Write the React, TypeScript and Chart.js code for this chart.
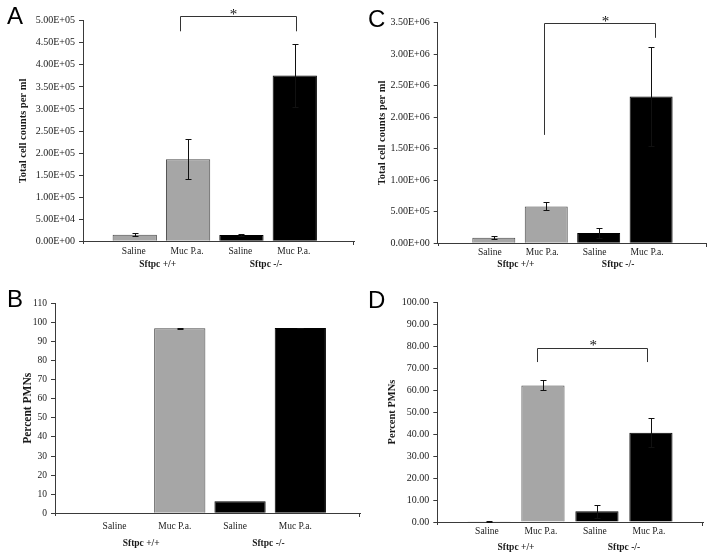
import React, { useEffect, useRef } from "react";
import { Chart, registerables } from "chart.js";

Chart.register(...registerables);

// ---------- data ----------
const categories = ["Saline", "Muc P.a.", "Saline", "Muc P.a."];
const groups = ["Sftpc +/+", "Sftpc -/-"];

const totalCellsA = [1.5e4, 1.86e5, 1.4e4, 3.76e5];
const totalCellsErrA = [3e3, 4.5e4, 1.5e3, 7.1e4];

const pmnB = [0, 96.9, 6.3, 97.1];
const pmnErrB = [0, 0.2, 0, 0.2];

const totalCellsC = [9e4, 5.85e5, 1.64e5, 2.33e6];
const totalCellsErrC = [2.7e4, 6.3e4, 8e4, 7.8e5];

const pmnD = [0.3, 62.1, 4.85, 40.6];
const pmnErrD = [0.2, 2.3, 2.9, 6.5];

const ticksA = ["0.00E+00", "5.00E+04", "1.00E+05", "1.50E+05", "2.00E+05", "2.50E+05", "3.00E+05", "3.50E+05", "4.00E+05", "4.50E+05", "5.00E+05"];
const ticksB = ["0", "10", "20", "30", "40", "50", "60", "70", "80", "90", "100", "110"];
const ticksC = ["0.00E+00", "5.00E+05", "1.00E+06", "1.50E+06", "2.00E+06", "2.50E+06", "3.00E+06", "3.50E+06"];
const ticksD = ["0.00", "10.00", "20.00", "30.00", "40.00", "50.00", "60.00", "70.00", "80.00", "90.00", "100.00"];

// ---------- styles ----------
const barColors = ["#a6a6a6", "#a6a6a6", "#000000", "#000000"];
const barBorders = ["#4a4a4a", "#4a4a4a", "#000000", "#000000"];
const AXIS = "#3a3a3a";
const TEXT = "#1a1a1a";
const SERIF = '"Liberation Serif", "Times New Roman", serif';
const SANS = '"Liberation Sans", Arial, sans-serif';

type Bracket = { x1: number; x2: number; top: number; leg1: number; leg2: number; starX: number; starDy: number };
type Panel = {
  letter: string;
  box: { left: number; top: number; width: number; height: number };
  values: number[];
  errors: number[];
  yStep: number;
  yTicks: string[];
  yTitle: string;
  titleSize: number;
  titlePad: number;
  tickSize: number;
  catSize: number;
  xMin: number;
  xMax: number;
  barPct: number;
  axisLeft: number;
  padTop: number;
  padRight: number;
  xAxisH: number;
  labelPad: number;
  labelOffset: number;
  groupX: number[];
  groupDy: number;
  letterX: number;
  letterY: number;
  letterSize: number;
  bracket?: Bracket;
};

const panels: Panel[] = [
  {
    letter: "A",
    box: { left: 0, top: 0, width: 358, height: 280 },
    values: totalCellsA,
    errors: totalCellsErrA,
    yStep: 5e4,
    yTicks: ticksA,
    yTitle: "Total cell counts per ml",
    titleSize: 10.5,
    titlePad: 16.7,
    tickSize: 10,
    catSize: 9.5,
    xMin: 0.03,
    xMax: 5.11,
    barPct: 0.83,
    axisLeft: 83,
    padTop: 20.7,
    padRight: 4,
    xAxisH: 38.7,
    labelPad: 4,
    labelOffset: -1,
    groupX: [1.43, 3.46],
    groupDy: 23.2,
    letterX: 7,
    letterY: 24,
    letterSize: 24,
    bracket: { x1: 1.84, x2: 4.02, top: 5.1e5, leg1: 4.76e5, leg2: 4.76e5, starX: 2.85, starDy: 4.5 },
  },
  {
    letter: "C",
    box: { left: 358, top: 0, width: 356, height: 280 },
    values: totalCellsC,
    errors: totalCellsErrC,
    yStep: 5e5,
    yTicks: ticksC,
    yTitle: "Total cell counts per ml",
    titleSize: 10.5,
    titlePad: 17.7,
    tickSize: 10,
    catSize: 9.5,
    xMin: -0.07,
    xMax: 5.06,
    barPct: 0.82,
    axisLeft: 79.7,
    padTop: 22.7,
    padRight: 7.3,
    xAxisH: 36.7,
    labelPad: 3.5,
    labelOffset: -4,
    groupX: [1.42, 3.37],
    groupDy: 21.7,
    letterX: 10,
    letterY: 27,
    letterSize: 24,
    bracket: { x1: 1.96, x2: 4.07, top: 3.49e6, leg1: 1.72e6, leg2: 3.26e6, starX: 3.13, starDy: 5 },
  },
  {
    letter: "B",
    box: { left: 0, top: 280, width: 364, height: 279 },
    values: pmnB,
    errors: pmnErrB,
    yStep: 10,
    yTicks: ticksB,
    yTitle: "Percent PMNs",
    titleSize: 11.5,
    titlePad: 21.6,
    tickSize: 9.5,
    catSize: 9.5,
    xMin: -0.07,
    xMax: 4.99,
    barPct: 0.85,
    axisLeft: 55,
    padTop: 23.3,
    padRight: 4,
    xAxisH: 45.7,
    labelPad: 7.7,
    labelOffset: -5,
    groupX: [1.36, 3.47],
    groupDy: 30.7,
    letterX: 7,
    letterY: 27,
    letterSize: 24,
  },
  {
    letter: "D",
    box: { left: 364, top: 280, width: 350, height: 279 },
    values: pmnD,
    errors: pmnErrD,
    yStep: 10,
    yTicks: ticksD,
    yTitle: "Percent PMNs",
    titleSize: 10.5,
    titlePad: 21.7,
    tickSize: 10,
    catSize: 9.5,
    xMin: 0.043,
    xMax: 4.97,
    barPct: 0.8,
    axisLeft: 73.3,
    padTop: 22,
    padRight: 10.7,
    xAxisH: 37,
    labelPad: 3.8,
    labelOffset: -2,
    groupX: [1.5, 3.5],
    groupDy: 26,
    letterX: 4,
    letterY: 28,
    letterSize: 24,
    bracket: { x1: 1.89, x2: 3.92, top: 79.2, leg1: 72.7, leg2: 72.7, starX: 2.93, starDy: 6 },
  },
];

function PanelChart({ p }: { p: Panel }) {
  const ref = useRef<HTMLCanvasElement>(null);

  useEffect(() => {
    const canvas = ref.current;
    if (!canvas) return;

    const annot = {
      id: "annot" + p.letter,
      afterDatasetsDraw(chart: any) {
        const ctx = chart.ctx as CanvasRenderingContext2D;
        const ys = chart.scales.y;
        const meta = chart.getDatasetMeta(0);
        ctx.save();
        ctx.strokeStyle = "#111111";
        ctx.lineWidth = 1;
        meta.data.forEach((el: any, i: number) => {
          const e = p.errors[i];
          if (!e) return;
          const x = Math.round(el.x) + 0.5;
          const yt = Math.round(ys.getPixelForValue(p.values[i] + e)) + 0.5;
          const yb = Math.round(ys.getPixelForValue(Math.max(0, p.values[i] - e))) + 0.5;
          ctx.beginPath();
          ctx.moveTo(x, yt);
          ctx.lineTo(x, yb);
          ctx.moveTo(x - 3, yt);
          ctx.lineTo(x + 3, yt);
          ctx.moveTo(x - 3, yb);
          ctx.lineTo(x + 3, yb);
          ctx.stroke();
        });
        ctx.restore();
      },
      afterDraw(chart: any) {
        const ctx = chart.ctx as CanvasRenderingContext2D;
        const xs = chart.scales.x;
        const ys = chart.scales.y;
        const area = chart.chartArea;
        ctx.save();
        // end ticks on the x axis
        ctx.strokeStyle = AXIS;
        ctx.lineWidth = 1;
        ctx.beginPath();
        const r = Math.round(area.right) - 0.5;
        const l = Math.round(area.left) + 0.5;
        const b = Math.round(area.bottom);
        ctx.moveTo(r, b);
        ctx.lineTo(r, b + 4);
        ctx.moveTo(l, b);
        ctx.lineTo(l, b + 3);
        ctx.stroke();

        // group labels
        ctx.fillStyle = TEXT;
        ctx.font = `bold ${p.catSize}px ${SERIF}`;
        ctx.textAlign = "center";
        ctx.textBaseline = "middle";
        groups.forEach((g, i) => {
          ctx.fillText(g, xs.getPixelForValue(p.groupX[i]), area.bottom + p.groupDy);
        });

        // bracket
        if (p.bracket) {
          const br = p.bracket;
          const x1 = Math.round(xs.getPixelForValue(br.x1)) + 0.5;
          const x2 = Math.round(xs.getPixelForValue(br.x2)) + 0.5;
          const yt = Math.round(ys.getPixelForValue(br.top)) + 0.5;
          ctx.strokeStyle = "#333333";
          ctx.beginPath();
          ctx.moveTo(x1, ys.getPixelForValue(br.leg1));
          ctx.lineTo(x1, yt);
          ctx.lineTo(x2, yt);
          ctx.lineTo(x2, ys.getPixelForValue(br.leg2));
          ctx.stroke();
          const starSize = 15;
          ctx.font = `${starSize}px ${SERIF}`;
          ctx.textBaseline = "alphabetic";
          ctx.fillStyle = "#111111";
          ctx.fillText("*", xs.getPixelForValue(br.starX), yt - br.starDy + 0.48 * starSize);
        }

        // panel letter
        ctx.font = `${p.letterSize}px ${SANS}`;
        ctx.textAlign = "left";
        ctx.textBaseline = "alphabetic";
        ctx.fillStyle = "#000000";
        ctx.fillText(p.letter, p.letterX, p.letterY);
        ctx.restore();
      },
    };

    const chart = new Chart(canvas, {
      type: "bar",
      data: {
        datasets: [
          {
            data: p.values.map((v, i) => ({ x: i + 1, y: v })),
            backgroundColor: barColors,
            borderColor: barBorders,
            borderWidth: 1,
            barPercentage: p.barPct,
            categoryPercentage: 1,
          } as any,
        ],
      },
      options: {
        responsive: false,
        animation: false,
        devicePixelRatio: 1,
        layout: { padding: { left: 0, top: p.padTop, right: p.padRight, bottom: 0 } },
        plugins: { legend: { display: false }, tooltip: { enabled: false } },
        scales: {
          x: {
            type: "linear",
            offset: false,
            min: p.xMin,
            max: p.xMax,
            grid: { display: false, drawTicks: false, offset: false },
            border: { display: true, color: AXIS, width: 1 },
            afterBuildTicks: (s: any) => {
              s.ticks = categories.map((_, i) => ({ value: i + 1 }));
            },
            afterFit: (s: any) => {
              s.height = p.xAxisH;
            },
            ticks: {
              autoSkip: false,
              maxRotation: 0,
              padding: p.labelPad,
              labelOffset: p.labelOffset,
              color: TEXT,
              font: { family: SERIF, size: p.catSize },
              callback: (_v: any, i: number) => categories[i],
            },
          } as any,
          y: {
            min: 0,
            max: p.yStep * (p.yTicks.length - 1),
            grid: { display: true, drawOnChartArea: false, drawTicks: true, tickLength: 4, color: AXIS },
            border: { display: true, color: AXIS, width: 1 },
            afterBuildTicks: (s: any) => {
              s.ticks = p.yTicks.map((_, i) => ({ value: i * p.yStep }));
            },
            afterFit: (s: any) => {
              s.width = p.axisLeft;
            },
            ticks: {
              padding: 4,
              color: TEXT,
              font: { family: SERIF, size: p.tickSize },
              callback: (_v: any, i: number) => p.yTicks[i],
            },
            title: {
              display: true,
              text: p.yTitle,
              color: TEXT,
              font: { family: SERIF, size: p.titleSize, weight: "bold" },
              padding: { top: p.titlePad, bottom: 0 },
            },
          } as any,
        },
      },
      plugins: [annot],
    });

    return () => chart.destroy();
  }, [p]);

  return (
    <canvas
      ref={ref}
      width={p.box.width}
      height={p.box.height}
      style={{ position: "absolute", left: p.box.left, top: p.box.top, width: p.box.width, height: p.box.height }}
    />
  );
}

export default function App() {
  return (
    <div style={{ position: "absolute", left: 0, top: 0, width: 714, height: 559, background: "#ffffff", overflow: "hidden" }}>
      {panels.map((p) => (
        <PanelChart key={p.letter} p={p} />
      ))}
    </div>
  );
}
